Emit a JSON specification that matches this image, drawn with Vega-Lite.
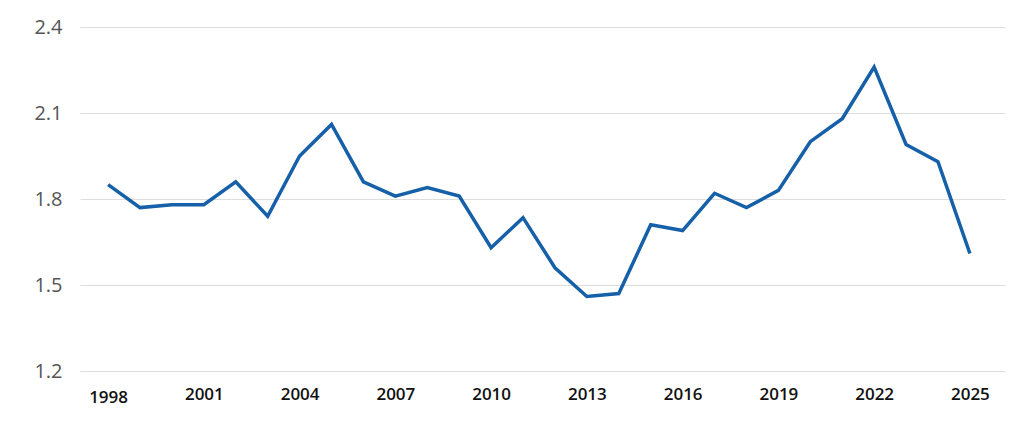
{
  "$schema": "https://vega.github.io/schema/vega-lite/v6.json",
  "autosize": "none",
  "width": 925,
  "height": 344,
  "padding": {"left": 80, "top": 27, "right": 19, "bottom": 68},
  "background": "white",
  "data": {
    "values": [
      {"year": 1998, "value": 1.85},
      {"year": 1999, "value": 1.77},
      {"year": 2000, "value": 1.78},
      {"year": 2001, "value": 1.78},
      {"year": 2002, "value": 1.86},
      {"year": 2003, "value": 1.74},
      {"year": 2004, "value": 1.95},
      {"year": 2005, "value": 2.06},
      {"year": 2006, "value": 1.86},
      {"year": 2007, "value": 1.81},
      {"year": 2008, "value": 1.84},
      {"year": 2009, "value": 1.81},
      {"year": 2010, "value": 1.63},
      {"year": 2011, "value": 1.735},
      {"year": 2012, "value": 1.56},
      {"year": 2013, "value": 1.46},
      {"year": 2014, "value": 1.47},
      {"year": 2015, "value": 1.71},
      {"year": 2016, "value": 1.69},
      {"year": 2017, "value": 1.82},
      {"year": 2018, "value": 1.77},
      {"year": 2019, "value": 1.83},
      {"year": 2020, "value": 2.0},
      {"year": 2021, "value": 2.08},
      {"year": 2022, "value": 2.26},
      {"year": 2023, "value": 1.99},
      {"year": 2024, "value": 1.93},
      {"year": 2025, "value": 1.61}
    ]
  },
  "mark": {"type": "line", "color": "#1560a8", "strokeWidth": 3.5, "strokeJoin": "miter"},
  "encoding": {
    "x": {
      "field": "year",
      "type": "quantitative",
      "scale": {"domain": [1997.12, 2026.1], "nice": false, "zero": false},
      "axis": {
        "title": null,
        "values": [1998, 2001, 2004, 2007, 2010, 2013, 2016, 2019, 2022, 2025],
        "format": "d",
        "grid": false,
        "domain": false,
        "ticks": false,
        "labelPadding": {"condition": {"test": "datum.value == 1998", "value": 18}, "value": 15},
        "labelFont": "Open Sans",
        "labelFontSize": 17,
        "labelFontWeight": 600,
        "labelColor": "#111111"
      }
    },
    "y": {
      "field": "value",
      "type": "quantitative",
      "scale": {"domain": [1.2, 2.4], "nice": false, "zero": false},
      "axis": {
        "title": null,
        "values": [1.2, 1.5, 1.8, 2.1, 2.4],
        "format": ".1f",
        "domain": false,
        "ticks": false,
        "labelPadding": 18,
        "labelFont": "Open Sans",
        "labelFontSize": 20,
        "labelColor": "#555555",
        "gridColor": "#dddddd",
        "gridWidth": 1
      }
    }
  },
  "config": {
    "view": {"stroke": null}
  }
}
